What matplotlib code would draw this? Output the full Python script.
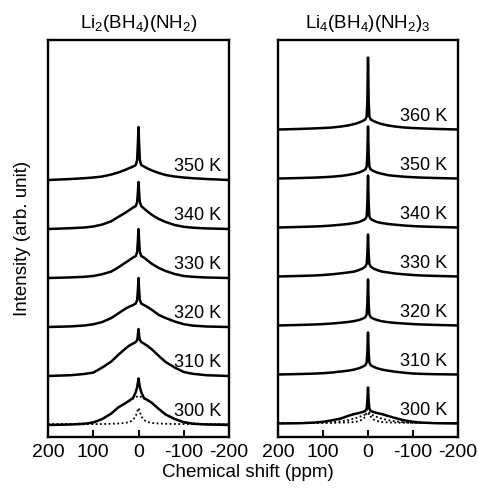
import matplotlib.pyplot as plt
import numpy as np

plt.rcParams['font.family'] = ['Liberation Sans', 'DejaVu Sans']
plt.rcParams['mathtext.fontset'] = 'custom'
plt.rcParams['mathtext.rm'] = 'Liberation Sans'
plt.rcParams['mathtext.it'] = 'Liberation Sans:italic'
plt.rcParams['mathtext.bf'] = 'Liberation Sans:bold'
plt.rcParams['axes.unicode_minus'] = False

shift = [200, 150, 120, 100, 80, 60, 45, 30, 20, 12, 6, 3, 1.5, 0,
         -1.5, -3, -6, -12, -20, -30, -45, -60, -80, -100, -120, -150, -200]

# Li2(BH4)(NH2), intensities in arb. unit
li2_temps = ['300 K', '310 K', '320 K', '330 K', '340 K', '350 K']
li2_300 = [0, 0.5, 1.2, 2.5, 6, 11.5, 17.5, 21.5, 24.5, 27, 33, 38, 42, 46.5,
           42, 38, 33, 27, 25, 22, 16, 10.5, 6, 2.8, 1.3, 0.5, 0]
li2_310 = [0, 0.8, 2, 3.4, 8.5, 14.5, 21, 27, 30.5, 32.5, 34, 36, 40, 47,
           40, 36, 34, 32.5, 30, 26.5, 20, 14, 8.5, 4, 2.2, 0.8, 0]
li2_320 = [0, 0.6, 1.5, 2.7, 5, 9, 13.5, 18, 20.5, 22, 23.5, 27, 36, 49,
           36, 27, 23.5, 22, 20, 17, 12, 9, 5.5, 2.8, 1.4, 0.5, 0]
li2_330 = [0, 0.6, 1.2, 2, 3.8, 6.5, 10.5, 15, 18, 20.5, 22, 26, 36, 49,
           36, 26, 22, 20.5, 17.5, 14, 10, 7, 4, 2, 1.2, 0.5, 0]
li2_340 = [0, 0.8, 1.5, 2.5, 4.5, 7.8, 12, 16, 19, 21.5, 23, 27, 36, 47,
           36, 27, 23, 20.5, 17.5, 14, 10, 7, 4, 2.2, 1.3, 0.6, 0]
li2_350 = [0, 1, 1.8, 2.5, 3.5, 5.5, 7.5, 10, 12, 13.5, 15, 20, 35, 53,
           35, 20, 15, 13.5, 11.5, 9.5, 7, 5, 3.5, 2.5, 1.8, 1, 0]
li2_fit_broad = [0.8, 1, 1.5, 2.8, 6, 11.5, 17.5, 21.5, 24, 26.5, 28, 28.5, 29, 29,
                 29, 28.5, 28, 26.5, 24.5, 22, 16, 10.5, 6, 2.8, 1.5, 1, 0.8]
li2_fit_narrow = [0.8, 0.8, 0.8, 0.9, 1, 1.2, 1.5, 2, 3, 5, 9, 13, 15.5, 17,
                  15.5, 13, 9, 5, 3, 2, 1.5, 1.2, 1, 0.9, 0.8, 0.8, 0.8]

# Li4(BH4)(NH2)3
li4_temps = ['300 K', '310 K', '320 K', '330 K', '340 K', '350 K', '360 K']
li4_300 = [0, 0.3, 0.9, 1.7, 3.2, 5, 7.5, 9.5, 10.5, 11.5, 12.5, 15, 22, 36,
           22, 15, 12.5, 11.5, 10.5, 9.5, 7.5, 5.5, 3.2, 1.7, 0.9, 0.3, 0]
li4_310 = [0, 0.5, 0.9, 1.3, 2, 3, 3.8, 5, 6.3, 7.8, 9.3, 12, 22, 42,
           22, 12, 9.3, 7.8, 6.3, 5, 3.8, 2.8, 1.8, 1, 0.6, 0.3, 0]
li4_320 = [0, 0.6, 1, 1.4, 2, 2.8, 3.5, 4.5, 5.5, 6.8, 8.3, 11, 22, 46,
           22, 11, 8.3, 6.8, 5.5, 4.3, 3.3, 2.6, 2, 1.4, 1, 0.6, 0]
li4_330 = [0, 0.6, 1, 1.5, 2.2, 3.2, 4, 5, 6.5, 8, 10, 12.5, 22, 42,
           22, 12.5, 10, 8, 6.5, 5, 4, 3, 2.2, 1.5, 1, 0.6, 0]
li4_340 = [0, 0.6, 1, 1.4, 2, 2.8, 3.5, 4.5, 5.5, 7, 8.5, 11, 24, 52,
           24, 11, 8.5, 7, 5.5, 4.5, 3.5, 2.8, 2, 1.4, 1, 0.6, 0]
li4_350 = [0, 0.5, 0.9, 1.3, 1.8, 2.6, 3.5, 4.8, 6, 7.5, 9, 12, 24, 52,
           24, 12, 9, 7.5, 6, 4.8, 3.3, 2.6, 1.8, 1.3, 0.9, 0.5, 0]
li4_360 = [0, 0.6, 1.1, 1.5, 2, 3, 4, 5.5, 7, 8.5, 10, 13, 28, 72,
           28, 13, 10, 8.5, 7, 5.5, 4, 3, 2, 1.5, 1.1, 0.6, 0]
li4_fit_broad = [0.5, 0.5, 0.5, 0.7, 1.2, 2.2, 3.3, 5, 6.5, 8, 9, 9.5, 9.5, 9.5,
                 9.5, 9.5, 9, 8, 6.5, 5, 3.3, 2.2, 1.2, 0.7, 0.5, 0.5, 0.5]
li4_fit_narrow = [0.5, 0.5, 0.5, 0.6, 0.7, 0.9, 1.1, 1.5, 2.5, 4, 7, 11, 20, 34,
                  20, 11, 7, 4, 2.5, 1.5, 1.1, 0.9, 0.7, 0.6, 0.5, 0.5, 0.5]

STEP = 49  # vertical offset between stacked spectra


def draw_panel(ax, title, temps, spectra, fits, label_x, ylim):
    for fit in fits:
        ax.plot(shift, fit, color='k', lw=1.3, ls=(0, (1, 1.4)))
    for i, (temp, trace) in enumerate(zip(temps, spectra)):
        off = i * STEP
        ax.plot(shift, np.array(trace) + off, color='k', lw=1.8,
                solid_joinstyle='round')
        ax.text(label_x, off + 9, temp, transform=ax.get_yaxis_transform(),
                ha='right', va='baseline', fontsize=13)
    ax.set_xlim(200, -200)
    ax.set_ylim(*ylim)
    ax.set_xticks([200, 100, 0, -100, -200])
    ax.set_yticks([])
    ax.tick_params(axis='x', direction='in', length=5, width=1.4,
                   labelsize=14, pad=5)
    for sp in ax.spines.values():
        sp.set_linewidth(1.7)
    ax.set_title(title, fontsize=13.5, pad=9)


fig = plt.figure(figsize=(4.78, 4.88), dpi=100)
ax1 = fig.add_axes([0.1004, 0.1045, 0.3787, 0.8135])
ax2 = fig.add_axes([0.5816, 0.1045, 0.3766, 0.8135])

draw_panel(ax1, r'Li$_2$(BH$_4$)(NH$_2$)', li2_temps,
           [li2_300, li2_310, li2_320, li2_330, li2_340, li2_350],
           [li2_fit_broad, li2_fit_narrow], 0.955, (-12, 385))
draw_panel(ax2, r'Li$_4$(BH$_4$)(NH$_2$)$_3$', li4_temps,
           [li4_300, li4_310, li4_320, li4_330, li4_340, li4_350, li4_360],
           [li4_fit_broad, li4_fit_narrow], 0.94, (-13.5, 383.5))

ax1.set_ylabel('Intensity (arb. unit)', fontsize=13.5, labelpad=12)
fig.text(0.518, 0.023, 'Chemical shift (ppm)', fontsize=13.5,
         ha='center', va='baseline')

fig.savefig('out.png', dpi=100)
